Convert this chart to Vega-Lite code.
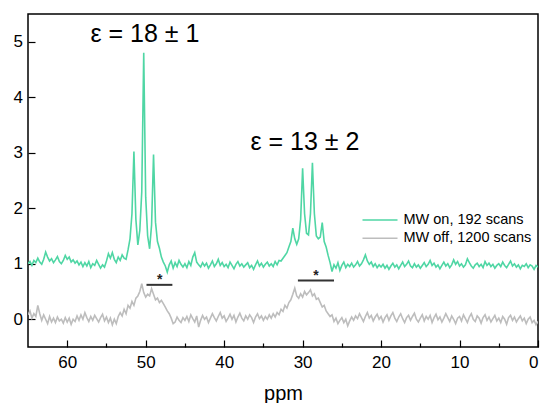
{
  "$schema": "https://vega.github.io/schema/vega-lite/v6.json",
  "width": 510,
  "height": 333,
  "autosize": {"type": "none"},
  "padding": {"left": 28, "top": 14, "right": 3, "bottom": 56},
  "background": "white",
  "config": {
    "view": {"stroke": "black", "strokeWidth": 1.5},
    "font": "Liberation Sans",
    "axis": {"grid": false, "domain": false, "labelColor": "black", "labelFontSize": 17, "tickColor": "black", "tickWidth": 1.2, "titleColor": "black"}
  },
  "datasets": {
    "spec": [
      {"x":65,"on":1.00,"off":0.08},{"x":64.75,"on":1.04,"off":0.15},{"x":64.5,"on":0.97,"off":0.02},{"x":64.25,"on":1.06,"off":0.10},{"x":64,"on":1.02,"off":0.05},
      {"x":63.75,"on":1.10,"off":0.25},{"x":63.5,"on":1.03,"off":0.10},{"x":63.25,"on":0.99,"off":-0.02},{"x":63,"on":1.08,"off":0.08},{"x":62.75,"on":1.21,"off":0.00},
      {"x":62.5,"on":1.12,"off":-0.08},{"x":62.25,"on":1.05,"off":0.05},{"x":62,"on":1.09,"off":-0.05},{"x":61.75,"on":1.02,"off":0.02},{"x":61.5,"on":1.07,"off":-0.06},
      {"x":61.25,"on":1.13,"off":0.04},{"x":61,"on":1.04,"off":-0.03},{"x":60.75,"on":1.00,"off":0.00},{"x":60.5,"on":1.06,"off":-0.07},{"x":60.25,"on":1.15,"off":0.03},
      {"x":60,"on":1.08,"off":-0.05},{"x":59.75,"on":1.12,"off":0.02},{"x":59.5,"on":1.03,"off":-0.09},{"x":59.25,"on":1.07,"off":0.00},{"x":59,"on":1.01,"off":-0.04},
      {"x":58.75,"on":1.05,"off":0.06},{"x":58.5,"on":0.98,"off":-0.02},{"x":58.25,"on":1.03,"off":0.08},{"x":58,"on":0.95,"off":0.00},{"x":57.75,"on":1.02,"off":0.12},
      {"x":57.5,"on":0.96,"off":0.03},{"x":57.25,"on":1.04,"off":-0.04},{"x":57,"on":0.93,"off":0.05},{"x":56.75,"on":1.00,"off":-0.02},{"x":56.5,"on":0.97,"off":0.07},
      {"x":56.25,"on":1.06,"off":0.01},{"x":56,"on":0.99,"off":-0.05},{"x":55.75,"on":0.92,"off":0.03},{"x":55.5,"on":0.98,"off":0.09},{"x":55.25,"on":0.94,"off":-0.03},
      {"x":55,"on":1.05,"off":0.04},{"x":54.75,"on":1.18,"off":-0.06},{"x":54.5,"on":1.10,"off":0.02},{"x":54.25,"on":1.20,"off":-0.10},{"x":54,"on":1.08,"off":0.00},
      {"x":53.75,"on":1.02,"off":-0.08},{"x":53.5,"on":1.12,"off":0.05},{"x":53.25,"on":1.06,"off":0.12},{"x":53,"on":1.16,"off":0.06},{"x":52.75,"on":1.10,"off":0.18},
      {"x":52.5,"on":1.08,"off":0.10},{"x":52.25,"on":1.25,"off":0.25},{"x":52,"on":1.45,"off":0.20},{"x":51.75,"on":1.90,"off":0.32},{"x":51.5,"on":3.02,"off":0.25},
      {"x":51.25,"on":1.80,"off":0.38},{"x":51,"on":1.34,"off":0.42},{"x":50.75,"on":1.60,"off":0.50},{"x":50.5,"on":2.30,"off":0.64},{"x":50.25,"on":4.80,"off":0.48},
      {"x":50,"on":2.20,"off":0.40},{"x":49.75,"on":1.50,"off":0.45},{"x":49.5,"on":1.27,"off":0.42},{"x":49.25,"on":1.70,"off":0.55},{"x":49,"on":2.97,"off":0.45},
      {"x":48.75,"on":1.75,"off":0.35},{"x":48.5,"on":1.40,"off":0.38},{"x":48.25,"on":1.28,"off":0.30},{"x":48,"on":1.12,"off":0.34},{"x":47.75,"on":1.03,"off":0.28},
      {"x":47.5,"on":0.96,"off":0.22},{"x":47.25,"on":0.85,"off":0.15},{"x":47,"on":0.98,"off":0.10},{"x":46.75,"on":1.05,"off":0.02},{"x":46.5,"on":0.92,"off":-0.08},
      {"x":46.25,"on":1.02,"off":-0.05},{"x":46,"on":0.95,"off":0.04},{"x":45.75,"on":1.06,"off":-0.02},{"x":45.5,"on":0.99,"off":-0.06},{"x":45.25,"on":0.94,"off":0.03},
      {"x":45,"on":1.00,"off":-0.02},{"x":44.75,"on":0.93,"off":0.05},{"x":44.5,"on":1.04,"off":-0.04},{"x":44.25,"on":0.97,"off":0.08},{"x":44,"on":1.12,"off":0.01},
      {"x":43.75,"on":1.20,"off":-0.05},{"x":43.5,"on":1.03,"off":0.06},{"x":43.25,"on":0.98,"off":-0.14},{"x":43,"on":0.94,"off":-0.02},{"x":42.75,"on":1.02,"off":0.07},
      {"x":42.5,"on":0.96,"off":0.00},{"x":42.25,"on":1.01,"off":0.04},{"x":42,"on":0.92,"off":-0.06},{"x":41.75,"on":0.98,"off":0.02},{"x":41.5,"on":1.05,"off":0.10},
      {"x":41.25,"on":0.95,"off":0.03},{"x":41,"on":1.00,"off":-0.03},{"x":40.75,"on":1.08,"off":0.05},{"x":40.5,"on":0.97,"off":0.12},{"x":40.25,"on":1.02,"off":0.02},
      {"x":40,"on":0.95,"off":0.06},{"x":39.75,"on":0.99,"off":-0.04},{"x":39.5,"on":0.93,"off":0.02},{"x":39.25,"on":1.03,"off":0.09},{"x":39,"on":0.97,"off":0.00},
      {"x":38.75,"on":0.91,"off":0.07},{"x":38.5,"on":0.99,"off":-0.05},{"x":38.25,"on":1.04,"off":0.04},{"x":38,"on":0.96,"off":0.11},{"x":37.75,"on":1.00,"off":0.02},
      {"x":37.5,"on":0.94,"off":-0.03},{"x":37.25,"on":0.98,"off":0.06},{"x":37,"on":1.02,"off":0.00},{"x":36.75,"on":0.93,"off":0.08},{"x":36.5,"on":0.97,"off":0.03},
      {"x":36.25,"on":0.90,"off":-0.06},{"x":36,"on":0.98,"off":0.04},{"x":35.75,"on":1.05,"off":0.10},{"x":35.5,"on":0.96,"off":0.01},{"x":35.25,"on":1.01,"off":0.06},
      {"x":35,"on":0.94,"off":-0.02},{"x":34.75,"on":0.99,"off":0.05},{"x":34.5,"on":1.03,"off":0.00},{"x":34.25,"on":0.96,"off":0.08},{"x":34,"on":1.00,"off":0.02},
      {"x":33.75,"on":0.95,"off":0.10},{"x":33.5,"on":1.04,"off":0.04},{"x":33.25,"on":0.98,"off":0.12},{"x":33,"on":1.06,"off":0.08},{"x":32.75,"on":1.05,"off":0.18},
      {"x":32.5,"on":1.10,"off":0.14},{"x":32.25,"on":1.15,"off":0.25},{"x":32,"on":1.20,"off":0.20},{"x":31.75,"on":1.30,"off":0.30},{"x":31.5,"on":1.40,"off":0.35},
      {"x":31.25,"on":1.64,"off":0.45},{"x":31,"on":1.45,"off":0.56},{"x":30.75,"on":1.35,"off":0.42},{"x":30.5,"on":1.45,"off":0.38},{"x":30.25,"on":1.80,"off":0.46},
      {"x":30,"on":2.72,"off":0.40},{"x":29.75,"on":1.90,"off":0.50},{"x":29.5,"on":1.55,"off":0.44},{"x":29.25,"on":1.52,"off":0.48},{"x":29,"on":1.90,"off":0.53},
      {"x":28.75,"on":2.82,"off":0.42},{"x":28.5,"on":1.90,"off":0.46},{"x":28.25,"on":1.50,"off":0.36},{"x":28,"on":1.45,"off":0.38},{"x":27.75,"on":1.48,"off":0.30},
      {"x":27.5,"on":1.74,"off":0.22},{"x":27.25,"on":1.40,"off":0.25},{"x":27,"on":1.30,"off":0.15},{"x":26.75,"on":1.15,"off":0.10},{"x":26.5,"on":1.02,"off":0.05},
      {"x":26.25,"on":0.86,"off":0.08},{"x":26,"on":0.98,"off":-0.04},{"x":25.75,"on":0.92,"off":0.02},{"x":25.5,"on":1.02,"off":-0.08},{"x":25.25,"on":0.88,"off":-0.02},
      {"x":25,"on":0.97,"off":0.03},{"x":24.75,"on":1.03,"off":-0.06},{"x":24.5,"on":0.93,"off":0.00},{"x":24.25,"on":0.99,"off":-0.12},{"x":24,"on":0.95,"off":-0.03},
      {"x":23.75,"on":1.01,"off":0.04},{"x":23.5,"on":0.94,"off":-0.02},{"x":23.25,"on":0.98,"off":0.06},{"x":23,"on":1.04,"off":0.01},{"x":22.75,"on":0.96,"off":0.10},
      {"x":22.5,"on":1.00,"off":0.03},{"x":22.25,"on":1.07,"off":-0.04},{"x":22,"on":1.16,"off":0.05},{"x":21.75,"on":1.05,"off":0.12},{"x":21.5,"on":0.99,"off":0.02},
      {"x":21.25,"on":1.03,"off":0.07},{"x":21,"on":0.95,"off":-0.03},{"x":20.75,"on":1.00,"off":0.04},{"x":20.5,"on":0.93,"off":0.09},{"x":20.25,"on":0.98,"off":0.00},
      {"x":20,"on":0.94,"off":0.05},{"x":19.75,"on":0.99,"off":-0.05},{"x":19.5,"on":0.92,"off":0.03},{"x":19.25,"on":0.97,"off":0.08},{"x":19,"on":0.90,"off":-0.02},
      {"x":18.75,"on":0.96,"off":0.06},{"x":18.5,"on":1.01,"off":0.12},{"x":18.25,"on":0.94,"off":0.02},{"x":18,"on":0.98,"off":-0.04},{"x":17.75,"on":0.91,"off":0.04},
      {"x":17.5,"on":0.97,"off":0.10},{"x":17.25,"on":1.03,"off":0.01},{"x":17,"on":0.95,"off":-0.06},{"x":16.75,"on":0.99,"off":0.03},{"x":16.5,"on":1.05,"off":0.07},
      {"x":16.25,"on":0.96,"off":-0.02},{"x":16,"on":0.93,"off":0.05},{"x":15.75,"on":1.00,"off":0.11},{"x":15.5,"on":0.94,"off":0.00},{"x":15.25,"on":0.98,"off":-0.05},
      {"x":15,"on":0.92,"off":0.02},{"x":14.75,"on":0.97,"off":0.08},{"x":14.5,"on":1.02,"off":-0.03},{"x":14.25,"on":0.95,"off":0.05},{"x":14,"on":0.99,"off":0.00},
      {"x":13.75,"on":1.06,"off":0.07},{"x":13.5,"on":0.97,"off":-0.06},{"x":13.25,"on":1.01,"off":0.03},{"x":13,"on":0.94,"off":0.09},{"x":12.75,"on":0.98,"off":-0.01},
      {"x":12.5,"on":0.91,"off":0.04},{"x":12.25,"on":0.97,"off":-0.05},{"x":12,"on":1.03,"off":0.02},{"x":11.75,"on":0.96,"off":0.10},{"x":11.5,"on":1.00,"off":0.03},
      {"x":11.25,"on":0.93,"off":-0.04},{"x":11,"on":0.98,"off":0.06},{"x":10.75,"on":1.07,"off":0.00},{"x":10.5,"on":0.99,"off":-0.08},{"x":10.25,"on":1.04,"off":0.02},
      {"x":10,"on":0.96,"off":0.05},{"x":9.75,"on":1.00,"off":-0.03},{"x":9.5,"on":0.94,"off":0.08},{"x":9.25,"on":0.98,"off":0.01},{"x":9,"on":1.09,"off":-0.06},
      {"x":8.75,"on":1.02,"off":0.04},{"x":8.5,"on":0.96,"off":0.10},{"x":8.25,"on":0.92,"off":0.00},{"x":8,"on":0.98,"off":-0.04},{"x":7.75,"on":1.01,"off":0.06},
      {"x":7.5,"on":0.95,"off":0.02},{"x":7.25,"on":0.99,"off":-0.07},{"x":7,"on":0.93,"off":0.03},{"x":6.75,"on":1.04,"off":0.08},{"x":6.5,"on":0.97,"off":-0.02},
      {"x":6.25,"on":1.01,"off":0.04},{"x":6,"on":0.95,"off":-0.05},{"x":5.75,"on":0.99,"off":0.01},{"x":5.5,"on":0.92,"off":0.07},{"x":5.25,"on":0.97,"off":-0.03},
      {"x":5,"on":1.00,"off":0.02},{"x":4.75,"on":0.95,"off":-0.06},{"x":4.5,"on":1.03,"off":0.05},{"x":4.25,"on":0.97,"off":0.00},{"x":4,"on":0.93,"off":-0.09},
      {"x":3.75,"on":0.99,"off":0.03},{"x":3.5,"on":1.05,"off":0.07},{"x":3.25,"on":0.96,"off":-0.02},{"x":3,"on":1.00,"off":0.04},{"x":2.75,"on":0.94,"off":-0.05},
      {"x":2.5,"on":0.98,"off":0.01},{"x":2.25,"on":0.91,"off":0.06},{"x":2,"on":0.97,"off":-0.03},{"x":1.75,"on":0.95,"off":0.02},{"x":1.5,"on":1.00,"off":-0.08},
      {"x":1.25,"on":0.93,"off":0.00},{"x":1,"on":0.98,"off":0.04},{"x":0.75,"on":0.96,"off":-0.06},{"x":0.5,"on":0.90,"off":-0.02},{"x":0.25,"on":0.97,"off":-0.10},
      {"x":0,"on":0.94,"off":-0.04}
    ],
    "bars": [
      {"x1": 49.9, "x2": 46.6, "y": 0.62, "xs": 48.2, "ys": 0.70},
      {"x1": 30.6, "x2": 26.0, "y": 0.70, "xs": 28.3, "ys": 0.78}
    ],
    "labels": [
      {"x": 50.1, "y": 5.14, "label": "ε = 18 ± 1"},
      {"x": 29.7, "y": 3.2, "label": "ε = 13 ± 2"}
    ]
  },
  "layer": [
    {
      "data": {"name": "spec"},
      "mark": {"type": "line", "strokeWidth": 1.6, "clip": true},
      "encoding": {
        "x": {"field": "x", "type": "quantitative",
          "scale": {"domain": [0, 65], "reverse": true, "nice": false, "zero": false},
          "axis": {"values": [60, 55, 50, 45, 40, 35, 30, 25, 20, 15, 10, 5, 0],
            "labelExpr": "datum.value % 10 === 0 ? datum.label : ''",
            "tickSize": {"condition": {"test": "datum.value % 10 === 0", "value": -7}, "value": -4},
            "labelPadding": 14,
            "title": "ppm", "titleFontSize": 20, "titleFontWeight": "normal", "titlePadding": 13}},
        "y": {"field": "on", "type": "quantitative",
          "scale": {"domain": [-0.5, 5.5], "nice": false, "zero": false},
          "axis": {"values": [0, 0.5, 1, 1.5, 2, 2.5, 3, 3.5, 4, 4.5, 5],
            "labelExpr": "datum.value % 1 === 0 ? format(datum.value, 'd') : ''",
            "tickSize": {"condition": {"test": "datum.value % 1 === 0", "value": -7}, "value": -4},
            "labelPadding": 12.5, "title": null}},
        "color": {"datum": "MW on, 192 scans", "type": "nominal",
          "scale": {"domain": ["MW on, 192 scans", "MW off, 1200 scans"], "range": ["#4FD6A4", "#BDBDBD"]},
          "legend": {"orient": "none", "legendX": 333.5, "legendY": 198, "title": null,
            "symbolType": "stroke", "symbolSize": 1225, "symbolStrokeWidth": 1.5,
            "labelFontSize": 14.5, "labelColor": "black", "labelOffset": 5, "clipHeight": 16, "rowPadding": 2.3}}
      }
    },
    {
      "data": {"name": "spec"},
      "mark": {"type": "line", "strokeWidth": 1.6, "clip": true},
      "encoding": {
        "x": {"field": "x", "type": "quantitative"},
        "y": {"field": "off", "type": "quantitative"},
        "color": {"datum": "MW off, 1200 scans", "type": "nominal"}
      }
    },
    {
      "data": {"name": "bars"},
      "mark": {"type": "rule", "color": "#333333", "strokeWidth": 2},
      "encoding": {
        "x": {"field": "x1", "type": "quantitative"},
        "x2": {"field": "x2"},
        "y": {"field": "y", "type": "quantitative"}
      }
    },
    {
      "data": {"name": "bars"},
      "mark": {"type": "text", "text": "*", "fontSize": 14, "fontWeight": "bold", "color": "#222222", "baseline": "middle"},
      "encoding": {
        "x": {"field": "xs", "type": "quantitative"},
        "y": {"field": "ys", "type": "quantitative"}
      }
    },
    {
      "data": {"name": "labels"},
      "mark": {"type": "text", "fontSize": 25, "color": "black", "baseline": "middle", "align": "center"},
      "encoding": {
        "x": {"field": "x", "type": "quantitative"},
        "y": {"field": "y", "type": "quantitative"},
        "text": {"field": "label"}
      }
    }
  ]
}
